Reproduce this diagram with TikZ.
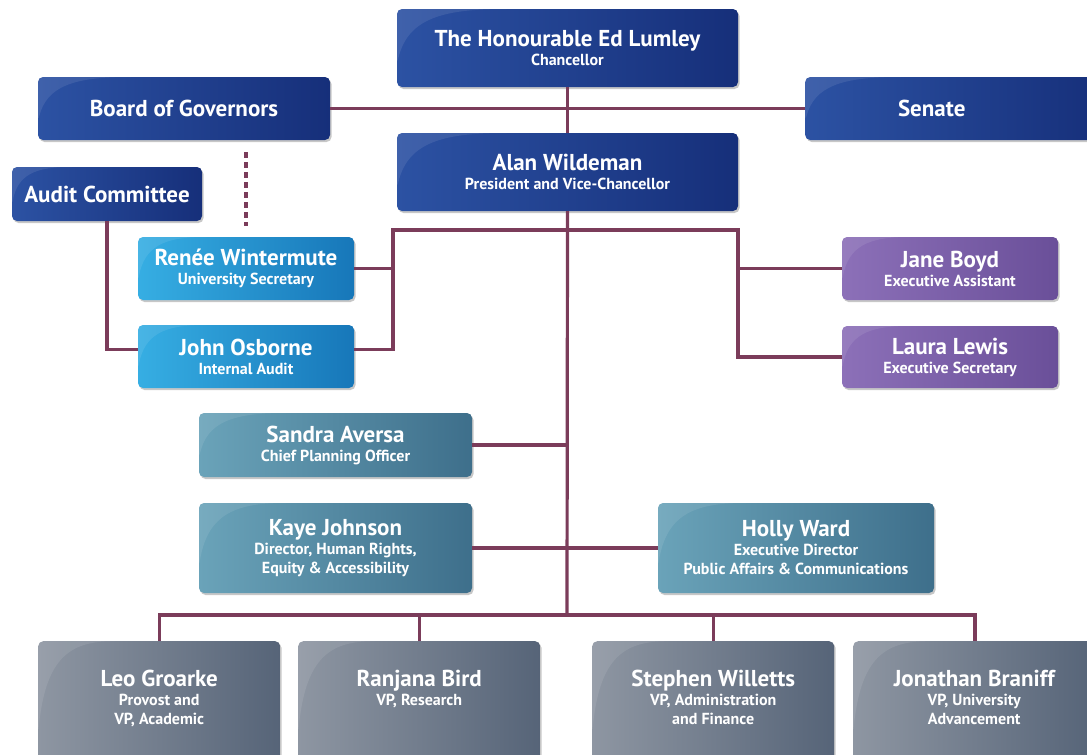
\documentclass[tikz,border=0pt]{standalone}
\usepackage{fontspec}
\setmainfont{PT Sans}
\usetikzlibrary{shadows,calc}
\definecolor{lcol}{HTML}{7B3C5A}
\definecolor{dbL}{HTML}{2C52A3}\definecolor{dbR}{HTML}{162F7A}
\definecolor{lbL}{HTML}{36AEE3}\definecolor{lbR}{HTML}{1777B9}
\definecolor{puL}{HTML}{8C70B8}\definecolor{puR}{HTML}{6A4F99}
\definecolor{teL}{HTML}{6AA3B9}\definecolor{teR}{HTML}{3E6F8B}
\definecolor{grL}{HTML}{8E96A2}\definecolor{grR}{HTML}{566478}
\newcommand{\orgname}[1]{{\fontsize{23}{20}\selectfont\bfseries #1}}
\newcommand{\orgrole}[1]{{\fontsize{16}{19}\selectfont\bfseries #1}}
\begin{document}
\begin{tikzpicture}[x=1pt,y=-1pt,
  orgbox/.style={rectangle, rounded corners=5pt, inner sep=0pt, text=white, align=center,
    font=\fontsize{16}{19}\selectfont,
    drop shadow={opacity=0.22, shadow xshift=1.5pt, shadow yshift=-2pt, fill=black},
    path picture={
      \path let \p1=(path picture bounding box.north west), \p2=(path picture bounding box.south east)
        in \pgfextra{\pgfmathsetmacro{\ww}{\x2-\x1}\pgfmathsetmacro{\hh}{\y1-\y2}}
        [fill=white, fill opacity=0.09]
        (\x1,\y1) -- (\x1,\y1-0.7*\hh pt) .. controls (\x1+0.03*\ww pt,\y1-0.15*\hh pt) and (\x1+0.12*\ww pt,\y1) .. (\x1+0.33*\ww pt,\y1) -- cycle;
    }},
  txt/.style={text=white, align=center, inner sep=0pt, font=\fontsize{16}{19}\selectfont},
  darkb/.style={left color=dbL, right color=dbR},
  lightb/.style={left color=lbL, right color=lbR},
  purp/.style={left color=puL, right color=puR},
  teal/.style={left color=teL, right color=teR},
  grayb/.style={left color=grL, right color=grR},
  conn/.style={draw=lcol, line width=3.2pt}]
\useasboundingbox (0,0) rectangle (1087,755);
\clip (0,0) rectangle (1087,755);

\coordinate (mj) at (567,615);
\coordinate (br) at (567,230);
\coordinate (lbx) at (393,230);
\coordinate (rbx) at (738,230);
\coordinate (d1) at (246,152);
\coordinate (d2) at (246,226);

% boxes
\node[orgbox, darkb, minimum width=341pt, minimum height=78pt] (chan) at (567.5,48)
  {\orgname{The Honourable Ed Lumley}\\\orgrole{Chancellor}};
\node[orgbox, darkb, minimum width=292pt, minimum height=63pt] (board) at (184,108.5)
  {\orgname{Board of Governors}};
\node[orgbox, darkb, minimum width=300pt, minimum height=63pt, anchor=west] (senate) at (805,108.5)
  {\orgname{Senate}\hspace*{47pt}};
\node[orgbox, darkb, minimum width=341pt, minimum height=78pt] (alan) at (567.5,172)
  {\orgname{Alan Wildeman}\\\orgrole{President and Vice-Chancellor}};
\node[orgbox, darkb, minimum width=190pt, minimum height=54pt] (audit) at (107,194)
  {\orgname{Audit Committee}};
\node[orgbox, lightb, minimum width=216pt, minimum height=63pt] (renee) at (246,268.5)
  {\orgname{Renée Wintermute}\\\orgrole{University Secretary}};
\node[orgbox, lightb, minimum width=216pt, minimum height=63pt] (john) at (246,356.5)
  {\orgname{John Osborne}\\\orgrole{Internal Audit}};
\node[orgbox, purp, minimum width=216pt, minimum height=63pt] (jane) at (950,268.5)
  {\orgname{Jane Boyd}\\\orgrole{Executive Assistant}};
\node[orgbox, purp, minimum width=216pt, minimum height=62pt] (laura) at (950,357)
  {\orgname{Laura Lewis}\\\orgrole{Executive Secretary}};
\node[orgbox, teal, minimum width=273pt, minimum height=64pt] (sandra) at (335.5,445)
  {\orgname{Sandra Aversa}\\\orgrole{Chief Planning Officer}};
\node[orgbox, teal, minimum width=273pt, minimum height=90pt] (kaye) at (335.5,548)
  {\orgname{Kaye Johnson}\\\orgrole{Director, Human Rights,}\\\orgrole{Equity \& Accessibility}};
\node[orgbox, teal, minimum width=276pt, minimum height=90pt] (holly) at (796,548)
  {\orgname{Holly Ward}\\\orgrole{Executive Director}\\\orgrole{Public Affairs \& Communications}};
\node[orgbox, grayb, minimum width=242pt, minimum height=130pt, anchor=north west] (leo) at (38,641) {};
\node[orgbox, grayb, minimum width=242pt, minimum height=130pt, anchor=north west] (ranjana) at (298,641) {};
\node[orgbox, grayb, minimum width=242pt, minimum height=130pt, anchor=north west] (stephen) at (592,641) {};
\node[orgbox, grayb, minimum width=242pt, minimum height=130pt, anchor=north west] (jonathan) at (853,641) {};
\node[txt, anchor=north] (leot) at ($(leo.north)+(0,29)$)
  {\orgname{Leo Groarke}\\\orgrole{Provost and}\\\orgrole{VP, Academic}};
\node[txt, anchor=north] (ranjanat) at ($(ranjana.north)+(0,29)$)
  {\orgname{Ranjana Bird}\\\orgrole{VP, Research}};
\node[txt, anchor=north] (stephent) at ($(stephen.north)+(0,29)$)
  {\orgname{Stephen Willetts}\\\orgrole{VP, Administration}\\\orgrole{and Finance}};
\node[txt, anchor=north] (jonathant) at ($(jonathan.north)+(0,29)$)
  {\orgname{Jonathan Braniff}\\\orgrole{VP, University}\\\orgrole{Advancement}};

% connectors
\draw[conn] (chan.south) -- (alan.north);
\draw[conn] (board.east) -- (senate.west);
\draw[conn, dash pattern=on 6pt off 4pt] (d1) -- (d2);
\draw[conn] (alan.south) -- (mj);
\draw[conn] (audit.south) |- ($(john.west)+(0,-7)$);
\draw[conn] (br) -- (lbx) -- (lbx |- {$(john.east)+(0,-7)$}) -- ($(john.east)+(0,-7)$);
\draw[conn] (lbx |- renee.east) -- (renee.east);
\draw[conn] (br) -- (rbx) |- (laura.west);
\draw[conn] (rbx |- jane.west) -- (jane.west);
\draw[conn] (sandra.east) -- (sandra.east -| mj);
\draw[conn] (kaye.east) -- (holly.west);
\draw[conn] (leo.north) |- (mj) -| ($(jonathan.north west)+(122,0)$);
\draw[conn] (ranjana.north) -- (ranjana.north |- mj);
\draw[conn] (stephen.north) -- (stephen.north |- mj);
\end{tikzpicture}
\end{document}
